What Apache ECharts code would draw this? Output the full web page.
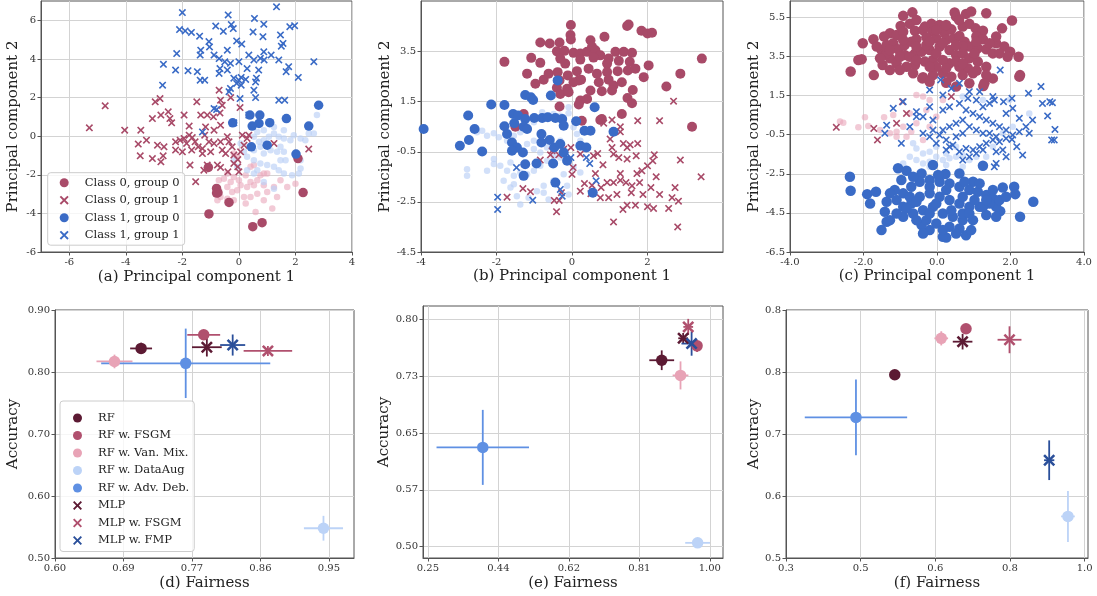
<!DOCTYPE html>
<html><head><meta charset="utf-8">
<script src="https://cdn.jsdelivr.net/npm/echarts@6/dist/echarts.min.js"></script>
<style>html,body{margin:0;padding:0;background:#fff}#c{width:1097px;height:596px}</style>
</head><body><div id="c"></div>
<script>
// ---------- (a) ----------
const A_C0G0 = [[2.09,-1.16],[2.27,-2.92],[-1.08,-1.62],[-0.79,-2.71],[-0.74,-2.93],[-0.35,-3.43],[-1.06,-4.03],[0.49,-4.69],[0.82,-4.48],[-0.79,-2.95]];
const A_C0G1 = [[-5.29,0.43],[-4.73,1.57],[-4.04,0.31],[-3.47,0.31],[-3.56,-0.41],[-3.27,-0.21],[-3.49,-1.02],[-3.06,-1.16],[-2.76,-1.33],[-2.68,-1.02],[-2.88,-0.47],[-2.65,-0.55],[-3.06,0.91],[-2.96,1.78],[-2.79,1.95],[-2.76,1.09],[-2.5,1.26],[-2.44,0.91],[-2.38,0.69],[-1.94,1.09],[-1.76,0.52],[-2.24,-0.29],[-2.08,-0.21],[-1.94,-0.12],[-1.85,-0.38],[-1.76,0.05],[-1.65,-0.07],[-1.55,-0.29],[-1.44,-0.55],[-1.67,-0.72],[-2.0,-0.81],[-2.24,-0.72],[-1.49,1.78],[-1.35,1.09],[-1.12,1.09],[-0.9,1.0],[-0.67,1.2],[-0.59,1.6],[-0.65,1.86],[-0.29,2.0],[-0.7,2.38],[0.04,1.48],[-1.18,0.48],[-0.88,0.31],[-0.65,0.57],[-1.21,0.05],[-1.06,-0.29],[-1.29,-0.64],[-1.0,-0.81],[-1.29,-0.9],[-1.73,-1.5],[-1.12,-1.5],[-1.24,-1.76],[-0.76,-1.5],[-0.65,-1.62],[-0.88,-0.38],[-0.65,-0.29],[-0.41,-0.03],[-0.35,-0.29],[-0.24,-0.55],[-0.59,-0.72],[-0.47,-0.9],[-0.18,-0.98],[-0.04,-1.21],[0.06,-0.81],[0.18,-0.47],[0.29,-0.12],[0.35,0.05],[0.12,0.05],[-0.18,-1.41],[-0.04,-1.59],[-0.39,-1.85],[0,-1.85],[-1.53,-2.36],[1.24,-0.38],[2.47,-0.67]];
const A_C1G0 = [[2.82,1.6],[1.68,0.91],[1.09,0.7],[0.74,1.09],[0.71,0.66],[0.47,0.52],[2.47,0.52],[1.0,-0.47],[0.44,-0.55],[2.02,-0.93],[-0.22,0.69],[0.39,1.09]];
const A_C1G1 = [[-2.0,6.4],[-0.38,6.28],[1.33,6.7],[0.55,6.1],[-0.82,5.7],[-0.27,5.78],[-0.2,5.57],[-0.55,5.43],[-2.1,5.52],[-1.9,5.45],[-1.68,5.37],[-1.39,5.18],[0.5,5.4],[0.88,5.8],[0.85,5.15],[1.47,5.24],[1.8,5.67],[1.97,5.72],[1.56,4.8],[1.5,4.66],[-0.08,4.93],[0.1,4.77],[-1.06,4.9],[-1.35,4.45],[-1.04,4.62],[-0.41,4.45],[-2.2,4.28],[-1.37,4.2],[-0.88,4.2],[-0.7,4.02],[-0.5,3.85],[-0.3,3.77],[0,3.86],[0.35,4.2],[0.53,3.95],[0.76,4.03],[0.89,3.95],[1.14,4.2],[1.41,3.95],[0.88,4.37],[-2.67,3.72],[-2.24,3.42],[-1.8,3.39],[-1.47,3.34],[-1.37,2.9],[-0.67,3.5],[-0.41,3.42],[-0.7,3.25],[0.29,3.5],[0.7,3.42],[1.76,3.6],[1.67,3.34],[2.1,3.04],[2.65,3.86],[-0.18,3.0],[0,2.9],[0.08,3.04],[0.24,2.94],[-0.08,2.73],[0.08,2.64],[0.62,3.0],[0.59,2.81],[-0.3,2.47],[-0.35,2.3],[0.53,2.38],[0.59,2.0],[0.04,1.95],[-2.7,2.64],[-1.21,2.9],[1.41,1.86],[1.62,1.86],[-0.88,1.43],[-0.79,1.38],[0.35,1.09],[-0.18,0.69],[-1.29,0.22]];
const A_LIGHT1 = [[0.06,-0.38],[0.35,-0.55],[0.53,-0.73],[0.71,-0.29],[0.88,-0.21],[1.06,-0.03],[1.24,0.14],[1.41,-0.03],[1.59,-0.12],[1.82,-0.21],[1.94,0.05],[2.18,-0.12],[2.35,-0.21],[2.47,0.14],[2.65,0.14],[2.76,1.09],[2.18,-1.68],[2.12,-1.94],[1.88,-2.02],[1.59,-1.94],[1.41,-1.76],[1.24,-1.59],[1.0,-1.5],[0.76,-1.42],[0.53,-1.25],[0.29,-1.07],[0.18,-0.81],[0.88,-0.9],[1.12,-0.73],[1.35,-0.81],[1.59,-0.81],[1.65,-1.25],[1.47,-1.25],[0.65,-1.76],[0.53,-1.94],[0.88,-2.37],[1.24,-2.72],[0.29,-1.76],[0.88,0.31],[0.65,0.22],[2.18,-1.25],[0.76,-0.55],[0.53,-0.03],[1.47,-0.55],[1.24,0.48],[1.59,0.31],[-0.18,-1.25],[-0.06,-1.59]];
const A_LIGHT0 = [[-0.41,-1.94],[-0.18,-2.11],[-0.29,-2.37],[-0.41,-2.63],[-0.24,-2.89],[-0.06,-2.8],[0.06,-2.54],[0.29,-2.63],[0.41,-2.37],[0.65,-2.28],[0.88,-2.54],[1.0,-2.89],[1.24,-2.63],[0.65,-2.98],[0.41,-3.15],[0.18,-3.15],[-0.18,-3.32],[-0.41,-3.24],[-0.65,-3.15],[-0.76,-3.32],[0.24,-3.49],[0.88,-3.32],[0.59,-3.93],[1.18,-3.75],[1.0,-1.94],[0.53,-2.54],[0,-2.28],[-0.53,-2.2],[1.71,-2.63],[2.0,-2.46],[1.47,-2.28],[0.24,-2.02],[0.53,-1.5],[0.88,-1.94],[1.35,-3.15],[-0.71,-2.28],[-0.06,-1.07],[-0.18,-0.9],[0.41,-1.59],[0.76,-2.02],[-3.18,-2.8]];
// ---------- (b) ----------
const B_C0G0 = [[-0.03,4.56],[-0.04,4.16],[-0.03,3.98],[-0.84,3.86],[-0.59,3.82],[-0.33,3.86],[-0.4,3.51],[-0.2,3.53],[0.04,3.45],[0.22,3.42],[0.4,3.49],[0.49,3.95],[0.53,3.69],[0.86,4.09],[0.62,3.55],[0.75,3.35],[0.97,3.22],[1.15,3.49],[1.46,4.52],[1.5,4.58],[1.84,4.33],[2.0,4.22],[2.12,4.25],[1.37,3.49],[1.59,3.45],[-1.08,3.25],[-0.84,3.05],[-1.79,3.09],[-0.31,3.22],[-0.18,3.02],[0.22,3.18],[0.57,3.26],[0.93,3.02],[1.24,3.13],[1.53,3.09],[1.21,2.72],[1.48,2.75],[1.68,2.82],[2.03,2.95],[1.9,2.48],[2.87,2.62],[3.44,3.22],[2.5,2.11],[-1.19,2.62],[-0.97,2.22],[-0.75,2.38],[-0.62,2.62],[-0.38,2.68],[-0.33,2.35],[-0.11,2.55],[0.13,2.72],[0.18,2.35],[0.04,2.28],[0.24,2.38],[0.44,2.82],[0.66,2.62],[0.71,2.28],[0.93,2.68],[0.97,2.38],[1.1,2.15],[1.32,2.28],[1.61,1.97],[1.47,1.65],[1.59,1.44],[0.79,1.92],[1.06,1.95],[0.49,1.95],[0.4,1.61],[0.22,1.55],[-0.13,2.02],[-0.4,2.06],[-0.31,1.81],[-0.09,1.88],[-0.33,1.31],[0.18,1.39],[0.75,0.77],[1.32,1.01],[0.26,0.74],[3.18,0.5],[-1.28,1.01],[-1.5,0.5],[0.79,0.81]];
const B_C0G1 = [[2.69,1.52],[2.32,0.74],[1.74,0.74],[1.06,0.77],[0.84,0.64],[1.28,0.5],[1.28,0.3],[1.01,0.01],[1.36,-0.17],[1.54,-0.22],[1.74,-0.17],[1.06,-0.33],[1.1,-0.59],[1.24,-0.73],[1.46,-0.79],[1.7,-0.66],[2.18,-0.62],[2.14,-0.86],[2.0,-1.06],[2.87,-0.83],[0.57,-0.66],[0.68,-0.57],[0.22,-0.59],[-0.03,-0.33],[-0.22,-0.39],[-0.53,-0.46],[-0.57,-0.62],[-0.35,-0.62],[-0.84,-0.83],[-0.11,-0.86],[0.03,-1.13],[0.0,-1.4],[0.62,-1.37],[0.82,-1.02],[1.28,-1.37],[1.72,-1.37],[1.85,-1.26],[2.23,-1.5],[3.42,-1.5],[1.79,-1.73],[1.59,-1.86],[1.43,-1.73],[1.28,-1.64],[1.1,-1.73],[0.93,-1.73],[0.77,-1.93],[0.53,-1.84],[0.33,-1.77],[0.22,-2.07],[0.5,-2.17],[0.75,-2.33],[0.97,-2.33],[1.19,-2.2],[1.57,-2.13],[1.88,-2.2],[2.09,-1.93],[2.32,-2.2],[2.73,-1.93],[2.65,-2.33],[2.82,-2.47],[2.56,-2.76],[2.16,-2.76],[2.0,-2.69],[1.68,-2.63],[1.46,-2.63],[1.35,-2.8],[1.1,-3.3],[2.8,-3.5],[-0.41,-2.89],[-0.47,-2.44],[-0.34,-2.44],[-0.28,-2.13],[-1.3,-1.97],[-1.1,-2.09],[-1.72,-2.31],[1.46,-0.33]];
const B_C1G0 = [[-3.93,0.41],[-2.97,-0.26],[-2.73,-0.03],[-2.75,0.95],[-2.58,0.41],[-2.38,-0.49],[-2.14,1.39],[-1.79,1.37],[-1.79,0.52],[-1.56,1.01],[-1.72,0.21],[-1.53,0.64],[-1.43,0.95],[-1.24,1.77],[-1.09,1.68],[-1.03,1.57],[-1.24,0.81],[-1.28,0.5],[-1.19,0.41],[-1.0,0.85],[-0.79,0.85],[-0.64,0.88],[-0.44,0.85],[-0.56,1.75],[-0.38,2.35],[-0.26,0.81],[-0.22,0.54],[0.11,0.72],[0.33,0.34],[0.49,0.34],[0.6,1.28],[1.1,0.3],[-1.59,-0.13],[-1.46,-0.33],[-1.3,-0.53],[-1.59,-0.46],[-0.81,0.21],[-0.81,-0.13],[-0.59,-0.03],[-0.47,-0.33],[-0.31,-0.19],[-0.22,-0.53],[0.22,-0.26],[0.38,-0.33],[-1.24,-1.0],[-0.94,-0.97],[-0.5,-0.97],[-0.13,-0.86],[-1.28,-1.46],[-0.44,-1.73],[0.55,-2.13]];
const B_C1G1 = [[-1.47,-1.13],[-1.97,-2.31],[-1.97,-2.8],[-1.04,-2.43],[-0.31,-2.0],[-0.26,-2.27],[0.38,-0.73],[0.47,-0.97],[0.64,-1.66],[-0.03,-0.73]];
const B_LIGHT1 = [[-2.52,0.28],[-2.38,0.34],[-2.25,0.14],[-2.07,0.24],[-1.94,0.08],[-1.72,-0.06],[-1.54,0.14],[-1.37,0.28],[-1.19,0.54],[-1.01,0.68],[-0.79,1.08],[-0.66,0.94],[-0.49,1.01],[-0.31,0.94],[-0.09,1.28],[-0.09,1.04],[-0.22,0.72],[0.04,0.48],[0.13,0.21],[0.22,-0.06],[-1.01,-0.06],[-1.19,-0.19],[-1.01,-0.39],[-0.84,-0.53],[-0.66,-0.33],[-0.49,-0.66],[-0.31,-0.73],[-0.66,-0.86],[-0.84,-1.06],[-1.01,-1.26],[-1.19,-1.4],[-1.37,-1.33],[-1.54,-1.46],[-1.72,-1.26],[-1.9,-1.06],[-2.07,-0.79],[-2.07,-0.99],[-1.81,-1.66],[-1.63,-1.93],[-1.46,-2.27],[-1.37,-2.6],[-1.15,-2.33],[-0.93,-2.07],[-0.75,-1.86],[-0.49,-1.66],[-0.22,-1.4],[-0.13,-1.86],[-0.09,-2.2],[-0.62,-2.4],[-0.75,-2.13],[-1.63,-0.93],[-2.78,-1.2],[-2.78,-1.46],[-2.25,-1.26],[-0.31,-0.06],[0.04,-1.13],[0.22,-1.33],[-1.54,-1.8]];
// ---------- (c) ----------
const C_C0G0 = [[-0.92,5.58],[-0.67,5.76],[0.48,5.75],[0.52,5.54],[0.79,5.68],[0.93,5.8],[1.34,5.71],[2.04,5.34],[-0.15,5.17],[0.07,5.11],[-0.33,5.03],[-0.99,5.06],[-0.74,5.17],[-1.28,4.69],[-1.44,4.52],[-1.1,4.6],[-0.92,4.77],[-0.6,4.82],[-0.38,4.86],[-0.11,4.77],[0.21,4.69],[0.39,4.89],[0.7,5.03],[0.88,5.17],[1.05,4.94],[1.25,4.82],[1.07,4.52],[1.25,4.38],[1.77,4.94],[1.61,4.18],[1.83,4.01],[1.99,3.75],[1.92,3.49],[2.22,3.49],[-1.51,3.83],[-1.37,4.09],[-1.19,4.18],[-1.06,3.87],[-0.88,4.09],[-0.7,4.26],[-0.56,4.38],[-0.29,4.48],[-0.02,4.43],[0.25,4.35],[0.45,4.43],[0.61,4.55],[0.75,4.26],[0.88,4.01],[1.11,3.92],[1.34,3.87],[1.52,3.66],[1.7,3.66],[-1.73,4.38],[-2.02,4.18],[-2.14,3.32],[-2.05,3.36],[-2.35,2.73],[-1.72,2.55],[-1.48,3.07],[-1.28,3.41],[-1.1,3.15],[-0.88,3.58],[-0.6,3.66],[-0.42,3.75],[-0.2,3.83],[0.07,4.01],[0.34,3.83],[0.52,3.58],[0.7,3.66],[0.88,3.41],[1.11,3.24],[1.34,2.98],[1.52,2.38],[1.34,2.55],[1.08,2.78],[0.84,2.9],[0.61,2.98],[0.34,3.15],[0.16,3.32],[-0.11,3.32],[-0.33,3.24],[-0.6,3.07],[-0.83,2.98],[-1.01,2.81],[-0.65,2.64],[-0.38,2.44],[-0.11,2.55],[0.16,2.64],[0.39,2.47],[0.7,2.55],[0.98,2.64],[1.29,2.13],[1.26,1.99],[0.52,1.96],[0.25,2.16],[-0.4,2.38],[-1.01,3.49],[-1.37,3.66],[-1.64,4.01],[-0.29,4.09],[-0.02,3.66],[0.7,4.01],[1.02,3.66],[2.24,2.47],[2.26,2.55],[1.61,4.52],[0.6,5.37],[-0.56,5.37],[-1.55,3.41],[-1.28,2.81],[-0.02,2.98],[0.25,2.9],[0.88,2.13],[-0.2,2.21],[-0.56,4.01],[-0.2,4.26],[0.16,4.18],[0.52,4.09],[-0.74,3.49],[-0.56,3.32],[-0.2,2.98],[0.52,3.24],[0.7,3.15],[-0.92,4.35],[-1.28,3.83],[-0.02,4.86],[0.25,5.11],[1.07,4.26],[1.43,4.18]];
const C_C0G1 = [[-2.74,-0.12],[-1.72,-0.18],[-1.62,-0.77],[-1.1,0.08],[-0.94,1.19],[-0.83,0.59],[0.39,1.45]];
const C_C1G0 = [[-2.37,-2.65],[-2.35,-3.37],[-1.9,-3.54],[-1.66,-3.42],[-1.82,-4.02],[-1.51,-5.38],[-1.37,-4.95],[-1.06,-2.22],[-0.83,-2.34],[-0.42,-2.48],[-0.11,-2.05],[0.23,-2.51],[0.61,-2.48],[0.98,-2.91],[1.25,-2.09],[1.79,-3.2],[2.1,-3.16],[2.13,-3.54],[2.62,-3.93],[2.26,-4.7],[1.72,-4.41],[1.34,-4.61],[0.98,-4.87],[0.79,-5.64],[0.25,-5.76],[0.16,-5.72],[-0.2,-5.38],[-0.42,-5.12],[-0.92,-4.7],[-1.28,-4.87],[-1.42,-4.44],[-1.37,-3.93],[-1.1,-3.84],[-0.92,-3.5],[-0.7,-3.16],[-0.47,-2.91],[-0.2,-2.82],[0.07,-2.91],[0.34,-2.99],[0.61,-3.16],[0.88,-3.33],[1.11,-3.42],[1.34,-3.59],[1.52,-3.76],[1.61,-4.19],[1.43,-4.02],[1.16,-4.19],[0.88,-4.19],[0.61,-4.02],[0.34,-3.84],[0.07,-3.67],[-0.2,-3.5],[-0.47,-3.67],[-0.7,-4.02],[-0.92,-4.19],[-1.1,-4.53],[-0.65,-4.53],[-0.38,-4.36],[-0.11,-4.19],[0.16,-4.53],[0.43,-4.7],[0.7,-4.87],[0.61,-5.3],[0.34,-5.21],[-0.02,-5.04],[-0.29,-4.87],[-0.56,-4.87],[-0.83,-4.27],[-1.15,-3.33],[-1.28,-3.5],[0.7,-4.53],[1.02,-3.84],[1.25,-4.19],[-0.02,-4.02],[0.25,-3.33],[0.7,-3.67],[-0.74,-3.67],[-0.2,-3.16],[0.93,-5.38],[1.34,-3.84],[1.7,-3.84],[1.88,-3.67],[1.52,-3.33],[0.03,-2.56],[-0.65,-2.65],[0.52,-5.55],[0.16,-5.38],[-0.38,-5.55],[-0.2,-4.53],[-0.56,-3.93],[-0.97,-2.82],[1.16,-2.99],[0.75,-2.91],[0.39,-4.36],[0.88,-4.53],[1.61,-4.7]];
const C_C1G1 = [[1.72,2.81],[2.83,1.96],[2.49,1.62],[2.87,1.1],[3.07,1.19],[3.14,1.14],[3.01,0.46],[3.21,-0.23],[3.12,-0.77],[3.19,-0.77],[2.33,-1.54],[2.17,-1.11],[2.04,-0.74],[2.24,0.34],[2.04,1.36],[2.06,0.85],[1.81,1.19],[1.56,1.27],[1.43,1.1],[1.25,0.93],[1.07,1.27],[0.88,1.7],[0.61,2.13],[0.1,2.3],[0.39,1.87],[0.16,1.53],[-0.2,0.93],[-0.56,0.68],[-0.92,1.19],[-1.19,0.85],[-1.37,-0.01],[-1.42,-0.43],[-0.97,-0.94],[-0.74,-0.09],[-0.38,0.42],[-0.11,0.25],[0.16,0.76],[0.34,0.93],[0.61,1.1],[0.79,0.76],[0.98,0.59],[1.16,0.42],[1.34,0.25],[1.52,0.08],[1.7,-0.09],[1.88,-0.26],[2.06,-0.52],[1.88,-0.69],[1.7,-0.86],[1.52,-0.77],[1.34,-0.94],[1.16,-1.11],[0.98,-1.28],[0.79,-1.2],[0.61,-1.37],[0.43,-1.03],[0.25,-0.77],[0.07,-0.52],[-0.11,-0.26],[0.16,-0.26],[0.34,-0.09],[0.52,0.08],[0.7,0.25],[0.88,-0.09],[1.07,-0.26],[1.25,-0.43],[1.43,-0.43],[1.61,-0.6],[0.7,-0.43],[0.52,-0.6],[0.34,-1.11],[0.88,-1.63],[1.07,-1.46],[1.25,-1.28],[1.61,-1.37],[1.88,-1.63],[1.61,-1.97],[1.56,-2.14],[0.7,-1.8],[0.25,-1.28],[-0.02,-0.94],[-0.2,-0.6],[-0.38,-0.43],[0.84,1.36],[1.16,1.7],[1.52,1.45],[1.88,0.59],[2.24,-0.35],[2.42,-0.09],[2.6,0.25],[-0.2,1.79],[-0.56,0.42],[2.51,-0.43],[1.79,-1.28]];
const C_LIGHT0 = [[-2.64,0.17],[-2.55,0.11],[-1.96,0.39],[-2.14,-0.12],[-1.87,-0.06],[-1.44,0.39],[-1.19,0.51],[-1.1,-0.35],[-0.83,-0.6],[-0.7,-0.35],[-0.56,1.53],[-0.38,1.45],[-0.2,1.27],[-0.29,0.76],[-0.56,0.08],[-0.74,0.59],[-0.02,0.42],[0.16,1.27],[0.34,2.3],[-0.92,-0.09],[-1.1,-0.6],[-1.28,-0.43],[-1.55,-0.26],[-0.2,-0.09],[-0.38,-0.77]];
const C_LIGHT1 = [[-0.74,-1.63],[-0.56,-1.8],[-0.38,-1.97],[-0.2,-1.88],[-0.02,-1.63],[0.16,-1.8],[0.34,-1.71],[0.52,-1.63],[0.7,-1.54],[0.88,-1.8],[-0.56,-1.2],[-0.2,-1.37],[0.25,-1.46],[1.34,-1.63],[1.52,-1.11],[1.79,-0.43],[2.06,-0.09],[1.97,1.27],[2.51,0.59],[1.25,1.27],[0.7,1.45],[-0.38,-1.46],[-0.02,-1.11],[0.52,-1.11],[1.07,-1.63],[-0.92,-1.97],[-0.2,-2.14],[0.25,-2.05],[0.7,-2.14],[-0.65,-0.94]];

// ---------- tick values / labels ----------
const A_XT = [-6,-4,-2,0,2,4], A_XL = ['-6','-4','-2','0','2','4'];
const A_YT = [-6,-4,-2,0,2,4,6], A_YL = ['-6','-4','-2','0','2','4','6'];
const B_XT = [-4,-2,0,2], B_XL = ['-4','-2','0','2'];
const B_YT = [-4.5,-2.5,-0.5,1.5,3.5], B_YL = ['-4.5','-2.5','-0.5','1.5','3.5'];
const C_XT = [-4,-2,0,2,4], C_XL = ['-4.0','-2.0','0.0','2.0','4.0'];
const C_YT = [-6.5,-4.5,-2.5,-0.5,1.5,3.5,5.5], C_YL = ['-6.5','-4.5','-2.5','-0.5','1.5','3.5','5.5'];
const D_XT = [0.6,0.6875,0.775,0.8625,0.95], D_XL = ['0.60','0.69','0.77','0.86','0.95'];
const D_YT = [0.5,0.6,0.7,0.8,0.9], D_YL = ['0.50','0.60','0.70','0.80','0.90'];
const E_XT = [0.25,0.4375,0.625,0.8125,1.0], E_XL = ['0.25','0.44','0.62','0.81','1.00'];
const E_YT = [0.5,0.575,0.65,0.725,0.8], E_YL = ['0.50','0.57','0.65','0.73','0.80'];
const F_XT = [0.3,0.475,0.65,0.825,1.0], F_XL = ['0.3','0.5','0.6','0.8','1.0'];
const F_YT = [0.5,0.5875,0.675,0.7625,0.85], F_YL = ['0.5','0.6','0.7','0.8','0.8'];

// ---------- bottom row: fairness / accuracy ----------
const METHODS = ['RF','RF w. FSGM','RF w. Van. Mix.','RF w. DataAug','RF w. Adv. Deb.','MLP','MLP w. FSGM','MLP w. FMP'];
const D_FAIR = [0.710,0.790,0.676,0.943,0.767,0.794,0.872,0.827];
const D_ACC  = [0.838,0.860,0.817,0.548,0.814,0.840,0.834,0.8435];
const D_FERR = [0.014,0.021,0.023,0.025,0.108,0.019,0.031,0.016];
const D_AERR = [0.009,0.003,0.011,0.020,0.056,0.015,0.008,0.017];
const E_FAIR = [0.872,0.966,0.922,0.9675,0.396,0.929,0.9425,0.9515];
const E_ACC  = [0.746,0.765,0.726,0.505,0.631,0.775,0.790,0.768];
const E_FERR = [0.033,0.012,0.021,0.033,0.123,0.013,0.013,0.027];
const E_AERR = [0.013,0.008,0.0185,0.003,0.0495,0.007,0.0106,0.016];
const F_FAIR = [0.555,0.722,0.664,0.961,0.464,0.714,0.824,0.917];
const F_ACC  = [0.7587,0.8236,0.810,0.5587,0.6984,0.8053,0.808,0.638];
const F_FERR = [0.005,0.004,0.016,0.016,0.120,0.023,0.028,0.012];
const F_AERR = [0.004,0.004,0.010,0.036,0.0534,0.011,0.019,0.028];

const SERIF = "'DejaVu Serif', serif";
const XPATH = 'path://M1.5,0L5,3.5L8.5,0L10,1.5L6.5,5L10,8.5L8.5,10L5,6.5L1.5,10L0,8.5L3.5,5L0,1.5Z';
const MAROON = '#a84a68', BLUE = '#3a6bc6';
const M_COLORS = ['#5c1a33','#b0506e','#e8a3b6','#bcd3f7','#5f90e3','#5c1a33','#b0506e','#2a4f9a'];
const M_SYMBOLS = ['circle','circle','circle','circle','circle',XPATH,XPATH,XPATH];

function fmt(ticks, labels) {
  return function (v) {
    let best = 0;
    for (let i = 0; i < ticks.length; i++) if (Math.abs(ticks[i] - v) < Math.abs(ticks[best] - v)) best = i;
    return labels[best];
  };
}
function axis(gi, min, max, ticks, labels, name, gap) {
  return {
    type: 'value', gridIndex: gi, min: min, max: max,
    name: name, nameLocation: 'middle', nameGap: gap,
    nameTextStyle: {fontFamily: SERIF, fontSize: 15, color: '#222'},
    axisLine: {show: true, onZero: false, lineStyle: {color: '#555', width: 1}},
    axisTick: {show: true, length: 3.5, customValues: ticks, lineStyle: {color: '#555', width: 1}},
    axisLabel: {customValues: ticks, fontFamily: SERIF, fontSize: 10, color: '#333', margin: 5, formatter: fmt(ticks, labels), showMinLabel: true, showMaxLabel: true},
    splitLine: {show: true, lineStyle: {color: '#d3d3d3', width: 1}}
  };
}
const grids = [
  {left: 41, top: 1, width: 311, height: 251},
  {left: 421, top: 1, width: 302, height: 251},
  {left: 790, top: 1, width: 294, height: 251},
  {left: 55, top: 310, width: 299, height: 248},
  {left: 423, top: 306, width: 300, height: 252},
  {left: 786, top: 310, width: 302, height: 248}
].map(g => Object.assign({show: true, borderColor: '#555', borderWidth: 1, backgroundColor: 'transparent', containLabel: false}, g));

const xAxes = [
  axis(0, -7, 4, A_XT, A_XL, '(a) Principal component 1', 18),
  axis(1, -4, 4, B_XT, B_XL, '(b) Principal component 1', 17),
  axis(2, -4, 4, C_XT, C_XL, '(c) Principal component 1', 17),
  axis(3, 0.6, 0.982, D_XT, D_XL, '(d) Fairness', 17.5),
  axis(4, 0.237, 1.035, E_XT, E_XL, '(e) Fairness', 18),
  axis(5, 0.3, 1.008, F_XT, F_XL, '(f) Fairness', 17.5)
];
const yAxes = [
  axis(0, -6, 7, A_YT, A_YL, 'Principal component 2', 20),
  axis(1, -4.5, 5.52, B_YT, B_YL, 'Principal component 2', 28),
  axis(2, -6.5, 6.34, C_YT, C_YL, 'Principal component 2', 27),
  axis(3, 0.5, 0.9, D_YT, D_YL, 'Accuracy', 34),
  axis(4, 0.485, 0.8176, E_YT, E_YL, 'Accuracy', 31),
  axis(5, 0.5, 0.85, F_YT, F_YL, 'Accuracy', 24)
];

const series = [];
function sc(gi, name, data, symbol, size, color, z) {
  series.push({type: 'scatter', name: name, xAxisIndex: gi, yAxisIndex: gi, data: data,
    symbol: symbol, symbolSize: size, itemStyle: {color: color, opacity: 1}, z: z, silent: true, animation: false});
}
const tops = [
  [A_LIGHT0, A_LIGHT1, A_C0G0, A_C0G1, A_C1G0, A_C1G1],
  [null, B_LIGHT1, B_C0G0, B_C0G1, B_C1G0, B_C1G1],
  [C_LIGHT0, C_LIGHT1, C_C0G0, C_C0G1, C_C1G0, C_C1G1]
];
const circleSize = [9.5, 10, 10.5];
tops.forEach((t, gi) => {
  if (t[0]) sc(gi, 'light0', t[0], 'circle', 6.5, 'rgba(234,166,186,0.6)', 1);
  sc(gi, 'light1', t[1], 'circle', 6.5, 'rgba(186,208,246,0.65)', 1);
  sc(gi, 'Class 0, group 0', t[2], 'circle', circleSize[gi], MAROON, 2);
  sc(gi, 'Class 0, group 1', t[3], XPATH, 7.5, MAROON, 2);
  sc(gi, 'Class 1, group 0', t[4], 'circle', circleSize[gi], BLUE, 2);
  sc(gi, 'Class 1, group 1', t[5], XPATH, 7.5, BLUE, 2);
});

function errRender(params, api) {
  const x = api.value(0), y = api.value(1), xe = api.value(2), ye = api.value(3);
  const l = api.coord([x - xe, y]), r = api.coord([x + xe, y]);
  const t = api.coord([x, y + ye]), b = api.coord([x, y - ye]);
  const style = {stroke: api.visual('color'), lineWidth: 1.8};
  return {type: 'group', children: [
    {type: 'line', shape: {x1: l[0], y1: l[1], x2: r[0], y2: r[1]}, style: style},
    {type: 'line', shape: {x1: t[0], y1: t[1], x2: b[0], y2: b[1]}, style: style}
  ]};
}
const bottoms = [
  [D_FAIR, D_ACC, D_FERR, D_AERR],
  [E_FAIR, E_ACC, E_FERR, E_AERR],
  [F_FAIR, F_ACC, F_FERR, F_AERR]
];
bottoms.forEach((b, k) => {
  const gi = k + 3;
  METHODS.forEach((m, i) => {
    sc(gi, m, [[b[0][i], b[1][i]]], M_SYMBOLS[i], i < 5 ? 11.5 : 12, M_COLORS[i], 4);
  });
  METHODS.forEach((m, i) => {
    series.push({type: 'custom', name: m + ' (err)', xAxisIndex: gi, yAxisIndex: gi,
      data: [[b[0][i], b[1][i], b[2][i], b[3][i]]], encode: {x: 0, y: 1},
      renderItem: errRender, itemStyle: {color: M_COLORS[i]}, z: 3, silent: true, animation: false});
  });
});

const legendText = {fontFamily: SERIF, fontSize: 11.5, color: '#222', lineHeight: 14, padding: [0, 0, 0, 11]};
const option = {
  animation: false,
  backgroundColor: '#fff',
  grid: grids, xAxis: xAxes, yAxis: yAxes, series: series,
  legend: [
    {data: ['Class 0, group 0','Class 0, group 1','Class 1, group 0','Class 1, group 1'],
     orient: 'vertical', left: 47.7, top: 172.7, padding: [3, 5, 3, 12], itemGap: 3.5,
     itemWidth: 9, itemHeight: 9, textStyle: legendText, selectedMode: false,
     backgroundColor: 'rgba(255,255,255,0.8)', borderColor: '#cccccc', borderWidth: 1, borderRadius: 3},
    {data: METHODS, orient: 'vertical', left: 60, top: 401, padding: [10, 5, 4, 13], itemGap: 3.5,
     itemWidth: 9, itemHeight: 9, textStyle: legendText, selectedMode: false,
     backgroundColor: 'rgba(255,255,255,0.8)', borderColor: '#cccccc', borderWidth: 1, borderRadius: 3}
  ]
};
const chart = echarts.init(document.getElementById('c'), null, {renderer: 'canvas'});
chart.setOption(option);
</script></body></html>
